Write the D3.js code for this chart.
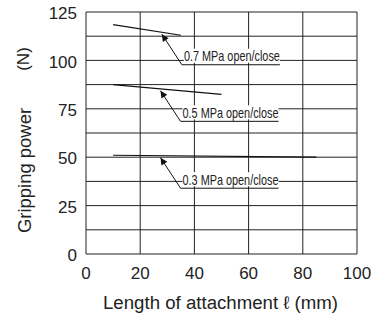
<!DOCTYPE html>
<html><head><meta charset="utf-8">
<script src="https://cdn.jsdelivr.net/npm/d3@7"></script>
<style>body{margin:0;background:#fff}svg{display:block}</style>
</head><body>
<script>
const xTicks = [0, 20, 40, 60, 80, 100];
const yTicks = [0, 25, 50, 75, 100, 125];
const yGrid = [0, 12.5, 25, 37.5, 50, 62.5, 75, 87.5, 100, 112.5, 125];
const seriesNames = ["0.7 MPa open/close", "0.5 MPa open/close", "0.3 MPa open/close"];
const seriesX = [[10, 35], [10, 50], [10, 85]];
const seriesY = [[118.5, 113], [87.5, 82.5], [51, 50]];
// arrow tip positions on each line (data units)
const arrowTipX = [28, 27.5, 27.5];

const W = 388, H = 316;
const svg = d3.select("body").append("svg").attr("width", W).attr("height", H);
const x = d3.scaleLinear().domain([0, 100]).range([86, 357]);
const y = d3.scaleLinear().domain([0, 125]).range([254, 12]);

svg.append("defs").append("marker").attr("id", "ah").attr("viewBox", "0 0 10 10")
  .attr("refX", 10).attr("refY", 5).attr("markerWidth", 10).attr("markerHeight", 7)
  .attr("markerUnits", "userSpaceOnUse").attr("orient", "auto")
  .append("path").attr("d", "M0,0L10,5L0,10z").attr("fill", "#111");

const g = svg.append("g");
g.selectAll("line.h").data(yGrid).join("line")
  .attr("x1", x(0)).attr("x2", x(100)).attr("y1", d => y(d)).attr("y2", d => y(d))
  .attr("stroke", "#222").attr("stroke-width", 1);
g.selectAll("line.v").data(xTicks).join("line")
  .attr("y1", y(0)).attr("y2", y(125)).attr("x1", d => x(d)).attr("x2", d => x(d))
  .attr("stroke", "#222").attr("stroke-width", 1);

const font = "'Liberation Sans', Arial, sans-serif";
svg.selectAll("text.yt").data(yTicks).join("text")
  .attr("x", 77).attr("y", d => y(d) + 1).attr("dy", "0.36em").attr("text-anchor", "end")
  .attr("font-family", font).attr("font-size", 17).attr("fill", "#222").text(d => d);
svg.selectAll("text.xt").data(xTicks).join("text")
  .attr("x", d => x(d)).attr("y", 273).attr("dy", "0.36em").attr("text-anchor", "middle")
  .attr("font-family", font).attr("font-size", 17).attr("fill", "#222").text(d => d);

svg.append("text").attr("transform", "translate(31,170.5) rotate(-90)").attr("text-anchor", "middle")
  .attr("font-family", font).attr("font-size", 18).attr("fill", "#222")
  .attr("textLength", 125).attr("lengthAdjust", "spacingAndGlyphs").text("Gripping power");
svg.append("text").attr("transform", "translate(29,59) rotate(-90)").attr("text-anchor", "middle")
  .attr("font-family", font).attr("font-size", 17).attr("fill", "#222").text("(N)");
svg.append("text").attr("x", 220.5).attr("y", 303).attr("dy", "0.36em").attr("text-anchor", "middle")
  .attr("font-family", font).attr("font-size", 18).attr("fill", "#222")
  .attr("textLength", 235).attr("lengthAdjust", "spacingAndGlyphs").text("Length of attachment ℓ (mm)");

const line = d3.line().x(d => x(d[0])).y(d => y(d[1]));
seriesNames.forEach((name, i) => {
  const pts = seriesX[i].map((v, j) => [v, seriesY[i][j]]);
  svg.append("path").attr("d", line(pts)).attr("fill", "none").attr("stroke", "#111").attr("stroke-width", 1.2);
  const tx = arrowTipX[i];
  const t = (tx - seriesX[i][0]) / (seriesX[i][1] - seriesX[i][0]);
  const ty = seriesY[i][0] + t * (seriesY[i][1] - seriesY[i][0]);
  const tipX = x(tx), tipY = y(ty) + 2;
  const tailX = tipX + 20, tailY = tipY + 30.5;
  svg.append("line").attr("x1", tailX).attr("y1", tailY).attr("x2", tipX).attr("y2", tipY)
    .attr("stroke", "#111").attr("stroke-width", 1).attr("marker-end", "url(#ah)");
  svg.append("line").attr("x1", tailX).attr("y1", tailY).attr("x2", tailX + 98).attr("y2", tailY)
    .attr("stroke", "#111").attr("stroke-width", 1);
  svg.append("rect").attr("x", tailX + 2).attr("y", tailY - 16).attr("width", 96).attr("height", 14).attr("fill", "#fff");
  svg.append("text").attr("x", tailX + 2).attr("y", tailY - 3.5)
    .attr("font-family", "'Liberation Sans Narrow', 'Arial Narrow', sans-serif").attr("font-size", 14.5)
    .attr("textLength", 96).attr("lengthAdjust", "spacingAndGlyphs")
    .attr("fill", "#222").text(name);
});
</script>
</body></html>
